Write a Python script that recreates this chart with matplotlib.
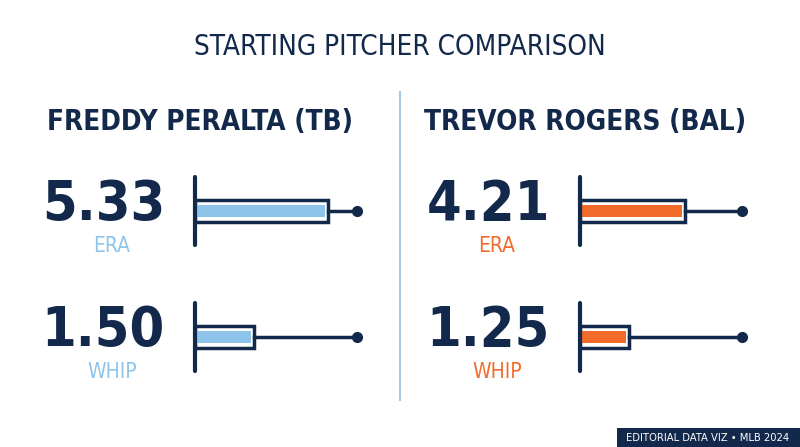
import matplotlib.pyplot as plt
from matplotlib.patches import Rectangle

pitchers = ["FREDDY PERALTA (TB)", "TREVOR ROGERS (BAL)"]
era = [5.33, 4.21]
whip = [1.50, 1.25]
colors = ["#8ec4ea", "#f26b2b"]
stats = ["ERA", "WHIP"]
scale_max = {"ERA": 6.5, "WHIP": 4.1}

navy = "#13294b"
fam = ["DejaVu Sans"]
st = "condensed"

fig = plt.figure(figsize=(8, 4.47), dpi=100)
ax = fig.add_axes([0, 0, 1, 1])
ax.set_xlim(0, 800)
ax.set_ylim(447, 0)
ax.axis("off")

ax.text(400, 47, "STARTING PITCHER COMPARISON", ha="center", va="center",
        fontsize=20, color=navy, family=fam, fontstretch=st)
ax.plot([400, 400], [92, 400], color="#a9cbe6", lw=1.5)

panel_x = [0, 385]
for i, name in enumerate(pitchers):
    ox = panel_x[i]
    ax.text(ox + 200, 122, name, ha="center", va="center", fontsize=20,
            fontweight="bold", color=navy, family=fam, fontstretch=st)
    for j, (stat, val) in enumerate(zip(stats, [era[i], whip[i]])):
        cy = 211 + j * 126
        ax.text(ox + 165, cy - 6, f"{val:.2f}", ha="right", va="center",
                fontsize=40, fontweight="bold", color=navy, family=fam, fontstretch=st)
        ax.text(ox + 112, cy + 35, stat, ha="center", va="center",
                fontsize=15, color=colors[i], family=fam, fontstretch=st)
        x0 = ox + 195
        w = 162
        blen = val / scale_max[stat] * w
        ax.plot([x0, x0], [cy - 34, cy + 34], color=navy, lw=3, solid_capstyle="round")
        ax.plot([x0 + blen, x0 + w], [cy, cy], color=navy, lw=2.5)
        ax.plot(x0 + w, cy, "o", color=navy, ms=7)
        ax.add_patch(Rectangle((x0, cy - 11), blen, 22, fc="white", ec=navy, lw=2.5))
        ax.add_patch(Rectangle((x0 + 2, cy - 6), blen - 5, 12, fc=colors[i], ec="none"))

ax.add_patch(Rectangle((617, 428), 183, 19, fc=navy, ec="none"))
ax.text(708, 438, "EDITORIAL DATA VIZ \u2022 MLB 2024", ha="center", va="center",
        fontsize=8, color="white", family=fam, fontstretch=st)

fig.savefig("out.png", dpi=100)
